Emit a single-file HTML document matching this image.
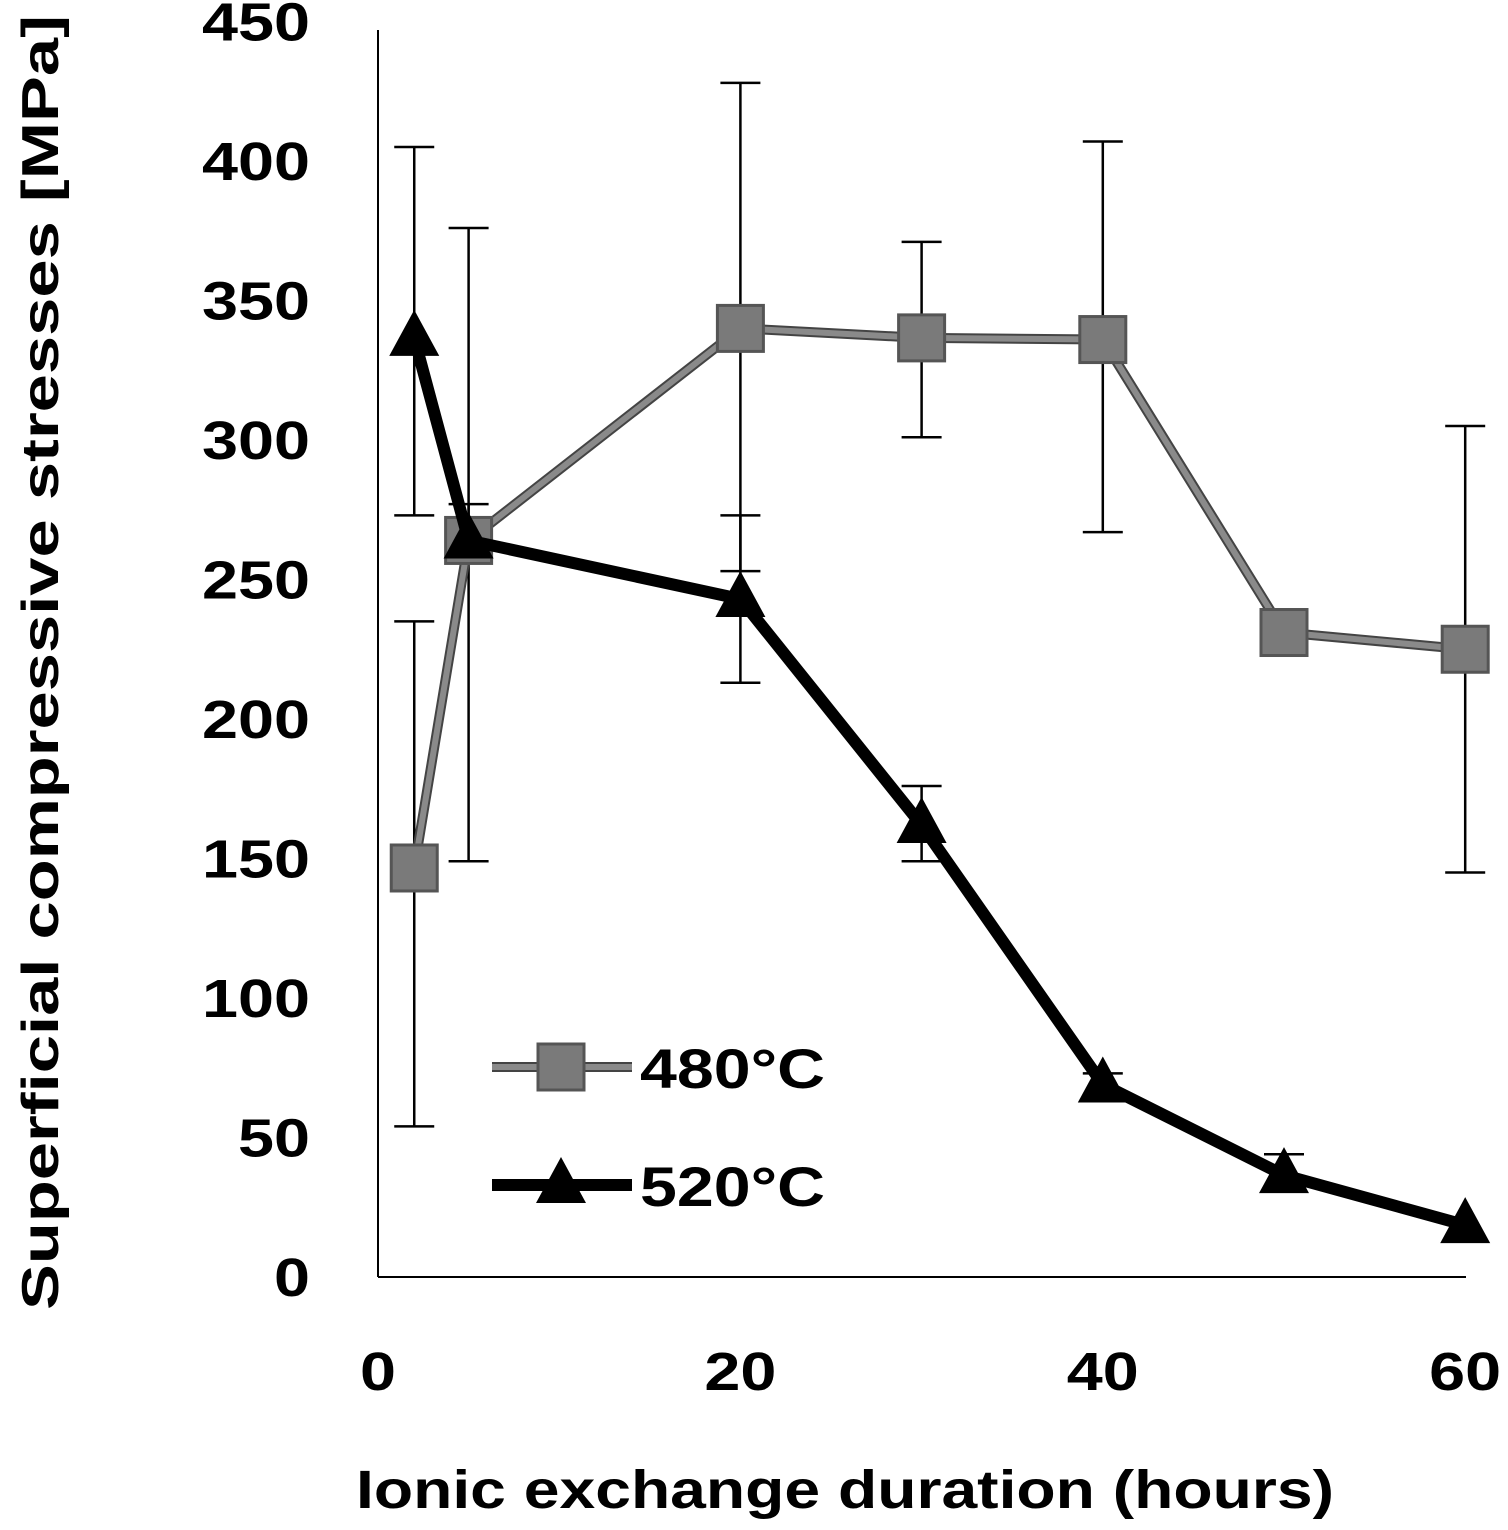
<!DOCTYPE html>
<html><head><meta charset="utf-8"><style>
html,body{margin:0;padding:0;background:#fff;}
svg text{font-family:"Liberation Sans",sans-serif;font-weight:bold;}
</style></head><body>
<svg id="chart" width="1508" height="1525" xmlns="http://www.w3.org/2000/svg"></svg>
<script>
const xVals=[2,5,20,30,40,50,60];
const s480=[146.6,264,340,336.6,336,231,225];
const s480Hi=[235,376,428,371,407,null,305];
const s480Lo=[54,149,253,301,267,null,145];
const s520=[336.6,264,243,162,69,36.5,18.6];
const s520Hi=[405,277,273,176,73,44,null];
const s520Lo=[273,null,213,149,null,null,null];
const yTicks=[0,50,100,150,200,250,300,350,400,450];
const xTicks=[0,20,40,60];

const NS="http://www.w3.org/2000/svg";
const svg=document.getElementById('chart');
const X=v=>378+v*18.12;
const Y=v=>1277-v*2.79;
function el(t,a,p){const e=document.createElementNS(NS,t);for(const k in a)e.setAttribute(k,a[k]);(p||svg).appendChild(e);return e;}

let ax=el('line',{x1:378,y1:30,x2:378,y2:1277,stroke:'#000','stroke-width':2});


ax=el('line',{x1:378,y1:1277,x2:1466,y2:1277,stroke:'#000','stroke-width':2});



yTicks.forEach(t=>{const s=String(t);const w=s.length*36;
const e=el('text',{x:310-w,y:Y(t)+19,'font-size':54,textLength:w,lengthAdjust:'spacingAndGlyphs'});e.textContent=s;

});
xTicks.forEach(t=>{const s=String(t);const w=s.length*36;
const e=el('text',{x:X(t)-w/2,y:1390,'font-size':54,textLength:w,lengthAdjust:'spacingAndGlyphs'});e.textContent=s;

});

let tt=el('text',{x:356,y:1508,'font-size':54,textLength:978,lengthAdjust:'spacingAndGlyphs'});tt.textContent='Ionic exchange duration (hours)';


tt=el('text',{x:0,y:0,'font-size':52,textLength:1295,lengthAdjust:'spacingAndGlyphs',transform:'translate(58,1310) rotate(-90)'});tt.textContent='Superficial compressive stresses [MPa]';



function err(hi,lo,name){xVals.forEach((x,i)=>{const cx=X(x);
 const v=name=='480'?s480[i]:s520[i];
 if(hi[i]!=null){const a=el('line',{x1:cx,y1:Y(hi[i]),x2:cx,y2:Y(v),stroke:'#000','stroke-width':2.5});
 
 
 el('line',{x1:cx-20,y1:Y(hi[i]),x2:cx+20,y2:Y(hi[i]),stroke:'#000','stroke-width':2.5});}
 if(lo[i]!=null){const a=el('line',{x1:cx,y1:Y(lo[i]),x2:cx,y2:Y(v),stroke:'#000','stroke-width':2.5});
 
 
 el('line',{x1:cx-20,y1:Y(lo[i]),x2:cx+20,y2:Y(lo[i]),stroke:'#000','stroke-width':2.5});}
});}
err(s480Hi,s480Lo,'480');err(s520Hi,s520Lo,'520');

const p480=xVals.map((x,i)=>X(x)+','+Y(s480[i])).join(' ');
let l=el('polyline',{points:p480,fill:'none',stroke:'#444','stroke-width':10,'stroke-linejoin':'round'});
l=el('polyline',{points:p480,fill:'none',stroke:'#8a8a8a','stroke-width':6,'stroke-linejoin':'round'});


xVals.forEach((x,i)=>{const r=el('rect',{x:X(x)-23,y:Y(s480[i])-23,width:46,height:46,fill:'#7a7a7a',stroke:'#555','stroke-width':3});

});

const p520=xVals.map((x,i)=>X(x)+','+Y(s520[i])).join(' ');
l=el('polyline',{points:p520,fill:'none',stroke:'#000','stroke-width':12,'stroke-linejoin':'round'});


xVals.forEach((x,i)=>{const cx=X(x),cy=Y(s520[i]);
const t=el('polygon',{points:`${cx},${cy-28} ${cx-25},${cy+18} ${cx+25},${cy+18}`,fill:'#000'});

});

let g=el('g',{});
el('line',{x1:492,y1:1067,x2:632,y2:1067,stroke:'#444','stroke-width':10},g);
el('line',{x1:492,y1:1067,x2:632,y2:1067,stroke:'#8a8a8a','stroke-width':6},g);
el('rect',{x:538,y:1044,width:46,height:46,fill:'#7a7a7a',stroke:'#555','stroke-width':3},g);
let lt=el('text',{x:640,y:1088,'font-size':56,textLength:185,lengthAdjust:'spacingAndGlyphs'},g);lt.textContent='480°C';
g=el('g',{});
el('line',{x1:492,y1:1185,x2:632,y2:1185,stroke:'#000','stroke-width':12},g);
el('polygon',{points:'561,1157 536,1203 586,1203',fill:'#000'},g);
lt=el('text',{x:640,y:1206,'font-size':56,textLength:185,lengthAdjust:'spacingAndGlyphs'},g);lt.textContent='520°C';
</script>
</body></html>
